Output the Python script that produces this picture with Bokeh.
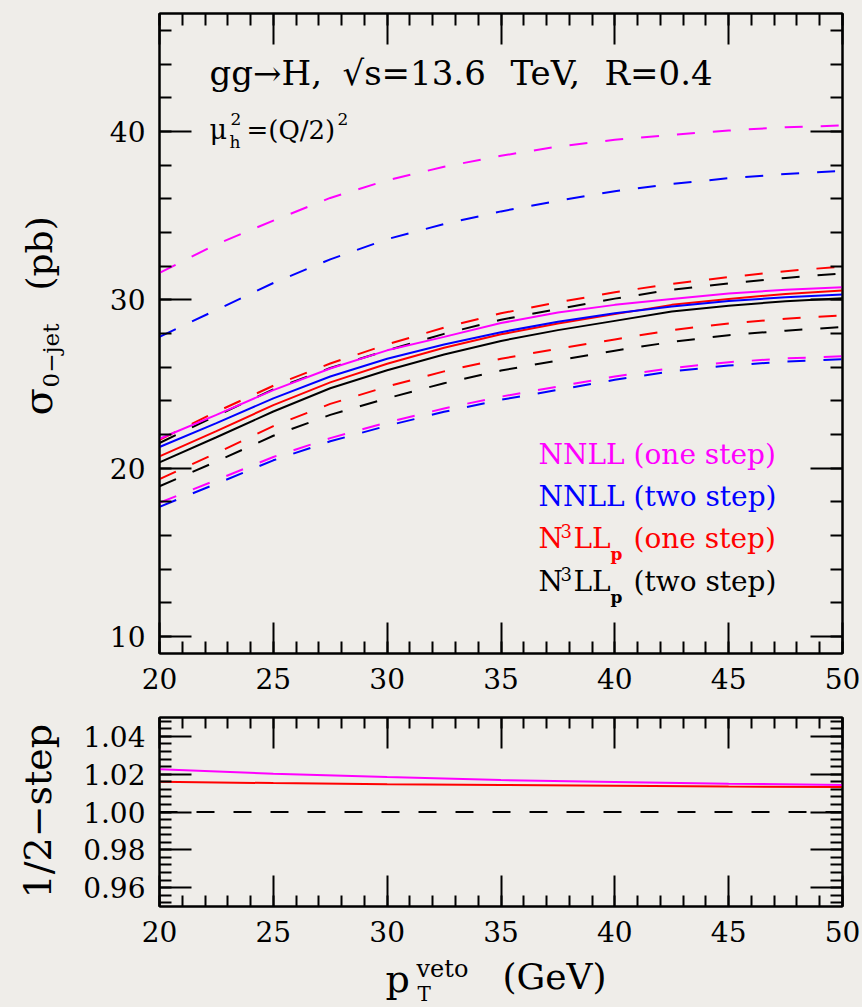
import numpy as np
from bokeh.plotting import figure
from bokeh.layouts import column, row
from bokeh.models import (FixedTicker, LinearAxis, Range1d, Label, Span,
                          NumeralTickFormatter, CustomJSTickFormatter)
from bokeh.embed import file_html
from bokeh.resources import INLINE

# ---------------------------------------------------------------- data
pt_veto = [20, 22.5, 25, 27.5, 30, 32.5, 35, 37.5, 40, 42.5, 45, 47.5, 50]

# NNLL, one-step resummation: central value and scale-variation band edges
nnll_one_central = [21.75, 23.17, 24.64, 25.92, 27.0, 27.8, 28.62, 29.25, 29.7, 30.05, 30.37, 30.6, 30.75]
nnll_one_upper = [31.6, 33.3, 34.7, 36.05, 37.1, 37.9, 38.55, 39.1, 39.5, 39.8, 40.05, 40.25, 40.35]
nnll_one_lower = [17.95, 19.3, 20.67, 21.79, 22.72, 23.55, 24.25, 24.85, 25.45, 25.95, 26.3, 26.52, 26.65]

# NNLL, two-step resummation
nnll_two_central = [21.26, 22.68, 24.15, 25.45, 26.5, 27.35, 28.08, 28.7, 29.2, 29.6, 29.93, 30.15, 30.31]
nnll_two_upper = [27.8, 29.4, 31.0, 32.4, 33.6, 34.5, 35.25, 35.88, 36.45, 36.88, 37.22, 37.47, 37.65]
nnll_two_lower = [17.71, 19.08, 20.47, 21.6, 22.52, 23.35, 24.07, 24.65, 25.25, 25.75, 26.1, 26.33, 26.47]

# N3LLp, one-step resummation
n3ll_one_central = [20.7, 22.2, 23.75, 25.1, 26.2, 27.15, 27.95, 28.6, 29.15, 29.7, 30.05, 30.35, 30.55]
n3ll_one_upper = [21.69, 23.35, 24.9, 26.22, 27.35, 28.35, 29.2, 29.85, 30.45, 30.95, 31.35, 31.7, 31.98]
n3ll_one_lower = [19.35, 20.9, 22.5, 23.82, 24.85, 25.75, 26.5, 27.1, 27.65, 28.2, 28.6, 28.88, 29.07]

# N3LLp, two-step resummation
n3ll_two_central = [20.35, 21.84, 23.37, 24.75, 25.82, 26.75, 27.56, 28.2, 28.75, 29.3, 29.65, 29.92, 30.1]
n3ll_two_upper = [21.5, 23.12, 24.68, 25.95, 27.0, 27.98, 28.82, 29.45, 30.07, 30.6, 30.98, 31.3, 31.57]
n3ll_two_lower = [18.93, 20.4, 21.93, 23.17, 24.15, 25.05, 25.8, 26.4, 26.98, 27.5, 27.9, 28.17, 28.38]

# ratio one-step / two-step of the central values
ratio_pt = [20, 25, 30, 35, 40, 45, 50]
ratio_nnll = [1.0226, 1.0203, 1.0185, 1.0169, 1.0159, 1.0150, 1.0143]
ratio_n3ll = [1.0160, 1.0153, 1.0147, 1.0143, 1.0139, 1.0135, 1.0132]

x_major = [20, 25, 30, 35, 40, 45, 50]
x_minor = list(range(20, 51))
y_major = [10, 20, 30, 40]
y_minor = list(range(10, 48, 2))
r_major = [0.96, 0.98, 1.00, 1.02, 1.04]
r_minor = [round(0.952 + 0.004 * i, 3) for i in range(25)]

# ---------------------------------------------------------------- style
BG = "#efede9"
SERIF = "DejaVu Serif"
MAGENTA, BLUE, RED, BLACK = "#ff00ff", "#0000ff", "#ff0000", "#000000"
DASH = "18 18"

PAGE_W, PAGE_H = 862, 1007
SIDE_W = 70                    # strip holding the vertical axis titles
FRAME_X0 = 159                 # page x of the plot frames' left edge
TOP_H, BOT_H = 700, 254
TOP_FB, BOT_FB = 653, 906      # page y of the frames' bottom edges
BASE_SHIFT = 0.38              # label anchor -> glyph baseline offset (em)
BOX_STYLE = {"background-color": BG}


def style_axis(ax, ticker, major_in, minor_in, labels=True):
    ax.ticker = ticker
    ax.major_tick_in = major_in
    ax.major_tick_out = 0
    ax.minor_tick_in = minor_in
    ax.minor_tick_out = 0
    for attr in ("major_tick_line", "minor_tick_line", "axis_line"):
        setattr(ax, attr + "_width", 2)
        setattr(ax, attr + "_color", "black")
    if labels:
        ax.major_label_text_font = SERIF
        ax.major_label_text_font_size = "28px"
        ax.major_label_text_color = "black"
        ax.major_label_standoff = 14
    else:
        ax.formatter = CustomJSTickFormatter(code="return ''")
        ax.major_label_text_font_size = "0px"
        ax.major_label_standoff = 0


def panel(height, y_range, top, bottom):
    f = figure(width=PAGE_W - SIDE_W, height=height,
               x_range=Range1d(20, 50), y_range=y_range,
               output_backend="svg", toolbar_location=None,
               min_border_left=FRAME_X0 - SIDE_W, min_border_right=20,
               min_border_top=top, min_border_bottom=bottom,
               background_fill_color=BG, border_fill_color=BG,
               outline_line_color="black", outline_line_width=2,
               styles=BOX_STYLE)
    f.xgrid.visible = False
    f.ygrid.visible = False
    return f


def strip(width, height):
    """Axis-free canvas used only to carry axis-title text."""
    f = figure(width=width, height=height, x_range=Range1d(0, 1), y_range=Range1d(0, 1),
               output_backend="svg", toolbar_location=None,
               x_axis_location=None, y_axis_location=None,
               min_border=0, min_border_left=0, min_border_right=0,
               min_border_top=0, min_border_bottom=0,
               background_fill_color=BG, border_fill_color=BG,
               outline_line_color=None, styles=BOX_STYLE)
    f.grid.visible = False
    return f


def text(fig, x0, y0, s, px, py, size, color="black", vertical=False, bold=False):
    """Text annotation with its baseline starting at page pixel (px, py);
    (x0, y0) is the page position of the figure frame's bottom-left corner."""
    if vertical:
        px -= BASE_SHIFT * size
    else:
        py -= BASE_SHIFT * size
    fig.add_layout(Label(x=px - x0, y=y0 - py,
                         x_units="screen", y_units="screen", text=s,
                         text_font=SERIF, text_font_size=f"{size}px",
                         text_color=color, text_align="left",
                         text_baseline="alphabetic",
                         angle=np.pi / 2 if vertical else 0.0,
                         text_font_style="bold" if bold else "normal"))


# ---------------------------------------------------------------- main panel
top = panel(TOP_H, Range1d(9, 47), 13, TOP_H - TOP_FB)

style_axis(top.xaxis[0], FixedTicker(ticks=x_major, minor_ticks=x_minor), 31, 12)
style_axis(top.yaxis[0], FixedTicker(ticks=y_major, minor_ticks=y_minor), 32, 12)
ax_t = LinearAxis()
style_axis(ax_t, FixedTicker(ticks=x_major, minor_ticks=x_minor), 31, 12, labels=False)
top.add_layout(ax_t, "above")
ax_r = LinearAxis()
style_axis(ax_r, FixedTicker(ticks=y_major, minor_ticks=y_minor), 32, 12, labels=False)
top.add_layout(ax_r, "right")

series = [
    (MAGENTA, nnll_one_central, nnll_one_upper, nnll_one_lower),
    (BLUE, nnll_two_central, nnll_two_upper, nnll_two_lower),
    (RED, n3ll_one_central, n3ll_one_upper, n3ll_one_lower),
    (BLACK, n3ll_two_central, n3ll_two_upper, n3ll_two_lower),
]
for color, central, upper, lower in reversed(series):
    top.line(pt_veto, upper, line_color=color, line_width=2, line_dash=DASH)
    top.line(pt_veto, lower, line_color=color, line_width=2, line_dash=DASH)
for color, central, upper, lower in reversed(series):
    top.line(pt_veto, central, line_color=color, line_width=2)

# process / scale annotations
T = (top, FRAME_X0, TOP_FB)
text(*T, "gg\u2192H,", 209, 85, 34)
text(*T, "\u221as=13.6", 342, 85, 34)
text(*T, "TeV,", 510, 85, 34)
text(*T, "R=0.4", 604, 85, 34)
text(*T, "\u03bc", 209, 139, 27)
text(*T, "h", 229, 148, 17)
text(*T, "2", 230, 125, 17)
text(*T, "=(Q/2)", 246, 139, 26)
text(*T, "2", 337, 125, 17)

# legend
text(*T, "NNLL (one step)", 538, 465, 28, MAGENTA)
text(*T, "NNLL (two step)", 538, 507, 28, BLUE)
for base, label, color in ((549, "(one step)", RED), (592, "(two step)", BLACK)):
    text(*T, "N", 538, base, 28, color)
    text(*T, "3", 560, base - 12, 18, color)
    text(*T, "LL", 573, base, 28, color)
    text(*T, "p", 610, base + 11, 17, color, bold=True)
    text(*T, label, 633, base, 28, color)

# ---------------------------------------------------------------- ratio panel
bot = panel(BOT_H, Range1d(0.95, 1.05), 17, TOP_H + BOT_H - BOT_FB)

style_axis(bot.xaxis[0], FixedTicker(ticks=x_major, minor_ticks=x_minor), 31, 11)
style_axis(bot.yaxis[0], FixedTicker(ticks=r_major, minor_ticks=r_minor), 32, 12)
bot.yaxis[0].formatter = NumeralTickFormatter(format="0.00")
ax_t2 = LinearAxis()
style_axis(ax_t2, FixedTicker(ticks=x_major, minor_ticks=x_minor), 31, 11, labels=False)
bot.add_layout(ax_t2, "above")
ax_r2 = LinearAxis()
style_axis(ax_r2, FixedTicker(ticks=r_major, minor_ticks=r_minor), 32, 12, labels=False)
bot.add_layout(ax_r2, "right")

bot.add_layout(Span(location=1.0, dimension="width", line_color="black",
                    line_width=2, line_dash="18 19"))
bot.line(ratio_pt, ratio_n3ll, line_color=RED, line_width=2)
bot.line(ratio_pt, ratio_nnll, line_color=MAGENTA, line_width=2)

# ---------------------------------------------------------------- axis titles
# the side strips share their frame's vertical extent with the panel next to them
ylab_top = strip(SIDE_W, TOP_H)
Y1 = (ylab_top, 0, TOP_FB)
text(*Y1, "\u03c3", 53, 415, 40, vertical=True)
text(*Y1, "0\u2212jet", 59, 387, 23, vertical=True)
text(*Y1, "(pb)", 53, 290, 36, vertical=True)

ylab_bot = strip(SIDE_W, BOT_H)
text(ylab_bot, 0, BOT_FB, "1/2\u2212step", 52, 898, 38, vertical=True)

xlab = strip(PAGE_W, PAGE_H - TOP_H - BOT_H)
X = (xlab, 0, PAGE_H)
text(*X, "p", 385, 993, 38)
text(*X, "T", 417, 1001, 20)
text(*X, "veto", 416, 978, 24)
text(*X, "(GeV)", 502, 990, 36)

layout = column(row(ylab_top, top, spacing=0, styles=BOX_STYLE),
                row(ylab_bot, bot, spacing=0, styles=BOX_STYLE),
                xlab, spacing=0, styles=BOX_STYLE)
with open("out.html", "w") as fh:
    fh.write(file_html(layout, INLINE))
